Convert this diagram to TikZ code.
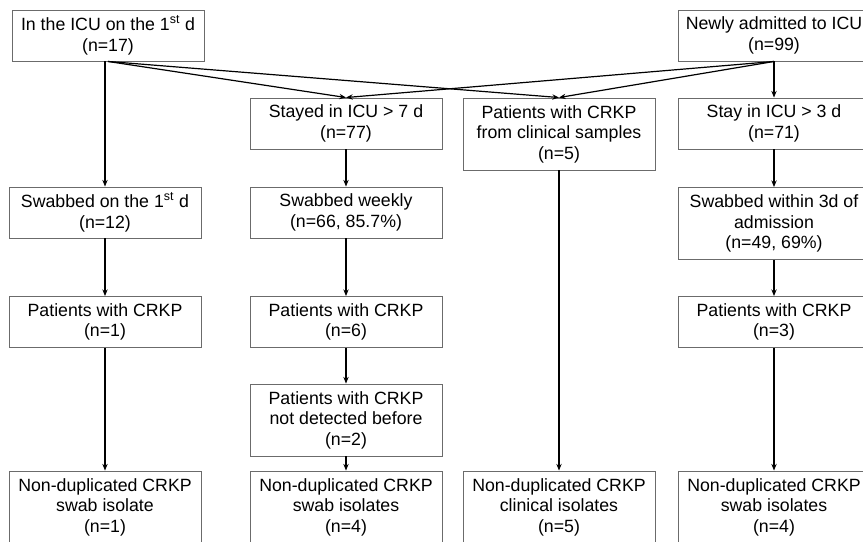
\documentclass[tikz,border=0pt]{standalone}
\usepackage{fontspec}
\setmainfont{Liberation Sans}
\usetikzlibrary{arrows.meta}
\definecolor{boxgray}{HTML}{6B6B6B}
\begin{document}
\begin{tikzpicture}[x=0.75pt,y=-0.75pt,
  box/.style={draw=boxgray, line width=0.7pt, fill=white, align=center,
    minimum width=144pt, inner sep=0pt, text=black,
    font=\fontsize{13.3}{15.4}\selectfont},
  htwo/.style={minimum height=38.25pt},
  hthree/.style={minimum height=54pt},
  arr/.style={-{Stealth[length=5pt,width=4pt]}, line width=0.9pt}]
\useasboundingbox (0,0) rectangle (863,542);
\clip (0,0) rectangle (863,542);
\fill[white] (0,0) rectangle (863,542);
% row 0
\node[box,htwo] (b1) at (108,35.5) {In the ICU on the 1\textsuperscript{st} d\\(n=17)};
\node[box,htwo] (nw) at (774,35.5) {Newly admitted to ICU\\(n=99)};
% row 1
\node[box,htwo] (st7) at (346,123.5) {Stayed in ICU > 7 d\\(n=77)};
\node[box,hthree] (cl) at (559,134) {Patients with CRKP\\from clinical samples\\(n=5)};
\node[box,htwo] (st3) at (774,123.5) {Stay in ICU > 3 d\\(n=71)};
% row 2
\node[box,htwo] (s1) at (105,212.5) {Swabbed on the 1\textsuperscript{st} d\\(n=12)};
\node[box,htwo] (sw) at (346,212.5) {Swabbed weekly\\(n=66, 85.7\%)};
\node[box,hthree] (s3) at (774,223.5) {Swabbed within 3d of\\admission\\(n=49, 69\%)};
% row 3
\node[box,htwo] (p1) at (105,322) {Patients with CRKP\\(n=1)};
\node[box,htwo] (p6) at (346,322) {Patients with CRKP\\(n=6)};
\node[box,htwo] (p3) at (774,322) {Patients with CRKP\\(n=3)};
% row 4
\node[box,hthree] (nd) at (346,420) {Patients with CRKP\\not detected before\\(n=2)};
% row 5
\node[box,hthree] (n1) at (105,507) {Non-duplicated CRKP\\swab isolate\\(n=1)};
\node[box,hthree] (n4) at (346,507) {Non-duplicated CRKP\\swab isolates\\(n=4)};
\node[box,hthree] (n5) at (559,507) {Non-duplicated CRKP\\clinical isolates\\(n=5)};
\node[box,hthree] (n4b) at (774,507) {Non-duplicated CRKP\\swab isolates\\(n=4)};
% connectors
\draw[arr] (b1.south -| s1.north) -- (s1.north);
\draw[arr] (b1.south) -- (st7.north);
\draw[arr] (b1.south) -- (cl.north);
\draw[arr] (nw.south) -- (st7.north);
\draw[arr] (nw.south) -- (cl.north);
\draw[arr] (nw.south) -- (st3.north);
\draw[arr] (st7.south) -- (sw.north);
\draw[arr] (sw.south) -- (p6.north);
\draw[arr] (p6.south) -- (nd.north);
\draw[arr] (nd.south) -- (n4.north);
\draw[arr] (s1.south) -- (p1.north);
\draw[arr] (p1.south) -- (n1.north);
\draw[arr] (cl.south) -- (n5.north);
\draw[arr] (st3.south) -- (s3.north);
\draw[arr] (s3.south) -- (p3.north);
\draw[arr] (p3.south) -- (n4b.north);
\end{tikzpicture}
\end{document}
